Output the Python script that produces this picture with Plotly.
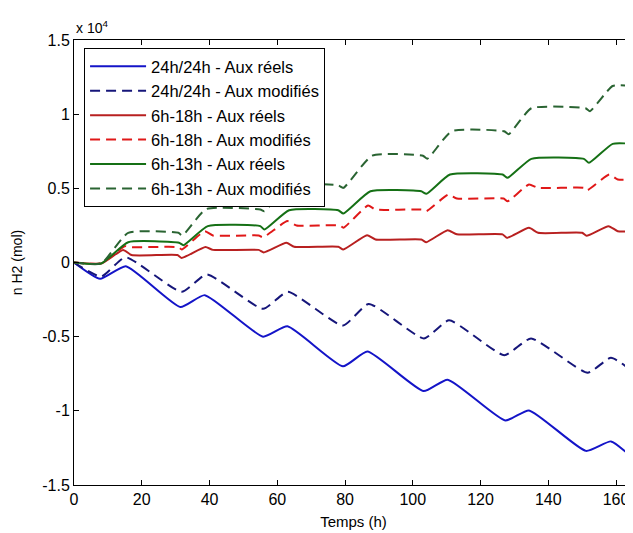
import plotly.graph_objects as go

# Values in units of 10^4 mol, time in hours (key points)
t_24_reel = [0, 7.7, 15.3, 31.4, 38.6, 55.8, 63.0, 79.4, 86.6, 103.2, 110.3, 127.3, 134.3, 151.1, 158.5, 165]
v_24_reel = [0, -0.11, -0.025, -0.30, -0.22, -0.50, -0.43, -0.70, -0.60, -0.867, -0.79, -1.065, -0.997, -1.27, -1.206, -1.32]

t_24_mod = [0, 8.0, 15.2, 31.8, 39.2, 55.8, 63.1, 79.4, 87.0, 103.3, 110.7, 127.0, 134.9, 151.6, 158.5, 165]
v_24_mod = [0, -0.095, 0.035, -0.198, -0.08, -0.312, -0.198, -0.425, -0.279, -0.512, -0.39, -0.625, -0.512, -0.743, -0.642, -0.735]

t_618_reel = [0, 8, 14.5, 17, 30.5, 31.8, 38.8, 41, 54.5, 56, 62.7, 65, 78, 79.5, 86.5, 89, 102.5, 104, 110.3, 113, 126.5, 127.8, 134.3, 137, 150, 151.3, 157.8, 160.5, 165]
v_618_reel = [0, -0.007, 0.085, 0.05, 0.05, 0.031, 0.105, 0.085, 0.085, 0.068, 0.133, 0.106, 0.106, 0.088, 0.184, 0.155, 0.155, 0.137, 0.218, 0.19, 0.19, 0.166, 0.234, 0.20, 0.20, 0.18, 0.245, 0.211, 0.211]

t_618_mod = [0, 8, 15, 17, 30.8, 31.8, 38.6, 41, 54.5, 55.8, 63.0, 65.7, 78.5, 79.5, 86.8, 89, 102.8, 104, 110.5, 113, 126.8, 128, 134.3, 137, 150.5, 151.5, 158, 160.5, 165]
v_618_mod = [0, -0.005, 0.11, 0.103, 0.103, 0.088, 0.211, 0.182, 0.182, 0.17, 0.279, 0.25, 0.25, 0.234, 0.384, 0.357, 0.357, 0.346, 0.458, 0.431, 0.431, 0.413, 0.526, 0.503, 0.503, 0.487, 0.593, 0.559, 0.559]

t_613_reel = [0, 8, 16, 31, 32.3, 39.5, 55, 56.2, 63.5, 78, 79.5, 87.5, 102.5, 104, 111, 126.5, 128, 135, 150.5, 152, 159, 165]
v_613_reel = [0, -0.007, 0.137, 0.133, 0.117, 0.245, 0.245, 0.222, 0.352, 0.352, 0.33, 0.48, 0.48, 0.463, 0.593, 0.593, 0.571, 0.699, 0.699, 0.672, 0.80, 0.80]

t_613_mod = [0, 8, 16, 30.8, 32, 39, 55, 56.2, 63.5, 78, 79.5, 88, 103, 104.3, 111.5, 127, 128.3, 135, 151, 152.3, 159, 165]
v_613_mod = [0, -0.007, 0.20, 0.20, 0.182, 0.36, 0.357, 0.346, 0.52, 0.52, 0.503, 0.72, 0.72, 0.70, 0.885, 0.885, 0.865, 1.04, 1.04, 1.02, 1.19, 1.19]

x_ticks = [0, 20, 40, 60, 80, 100, 120, 140, 160]
y_ticks = [-1.5, -1, -0.5, 0, 0.5, 1, 1.5]
y_ticktext = ["-1.5", "-1", "-0.5", "0", "0.5", "1", "1.5"]

series = [
    ("24h/24h - Aux réels", t_24_reel, v_24_reel, "#1414c8", "solid"),
    ("24h/24h - Aux modifiés", t_24_mod, v_24_mod, "#16167a", "10px,6px"),
    ("6h-18h - Aux réels", t_618_reel, v_618_reel, "#b82020", "solid"),
    ("6h-18h - Aux modifiés", t_618_mod, v_618_mod, "#e01818", "10px,6px"),
    ("6h-13h - Aux réels", t_613_reel, v_613_reel, "#157015", "solid"),
    ("6h-13h - Aux modifiés", t_613_mod, v_613_mod, "#2a6432", "10px,6px"),
]

FONT = "Liberation Sans, Arial, sans-serif"

fig = go.Figure()
for name, t, v, color, dash in series:
    fig.add_trace(go.Scatter(
        x=t, y=v, name=name, mode="lines",
        line=dict(color=color, width=2, dash=dash, shape="spline", smoothing=0.5),
    ))

# the page body adds an 8px offset; the figure size and margins account for it
fig.update_layout(
    width=625, height=525,
    margin=dict(l=66, r=0, t=32, b=48),
    paper_bgcolor="white", plot_bgcolor="white",
    font=dict(family=FONT, size=16, color="black"),
    showlegend=True,
    legend=dict(
        x=0.018, y=0.982, xanchor="left", yanchor="top",
        bgcolor="white", bordercolor="black", borderwidth=1,
        font=dict(family=FONT, size=16.5, color="black"),
        itemwidth=56, tracegroupgap=0,
    ),
    xaxis=dict(
        range=[0, 165], tickvals=x_ticks, ticks="inside", ticklen=5,
        tickcolor="black", showline=True, linecolor="black", linewidth=1,
        mirror="ticks", showgrid=False, zeroline=False, automargin=False,
        title=dict(text="Temps (h)", font=dict(size=15), standoff=9),
        tickfont=dict(size=16),
    ),
    yaxis=dict(
        range=[-1.5, 1.5], tickvals=y_ticks, ticktext=y_ticktext,
        ticks="inside", ticklen=5, tickcolor="black", showline=True,
        linecolor="black", linewidth=1, mirror=False, showgrid=False,
        zeroline=False, automargin=False,
        title=dict(text="n H2 (mol)", font=dict(size=14), standoff=16),
        tickfont=dict(size=16),
    ),
    annotations=[dict(
        text="x 10<sup>4</sup>", xref="paper", yref="paper", x=0.0, y=1.0,
        xanchor="left", yanchor="bottom", yshift=2, showarrow=False,
        font=dict(family=FONT, size=14, color="black"),
    )],
)

fig.write_html("out.html")
